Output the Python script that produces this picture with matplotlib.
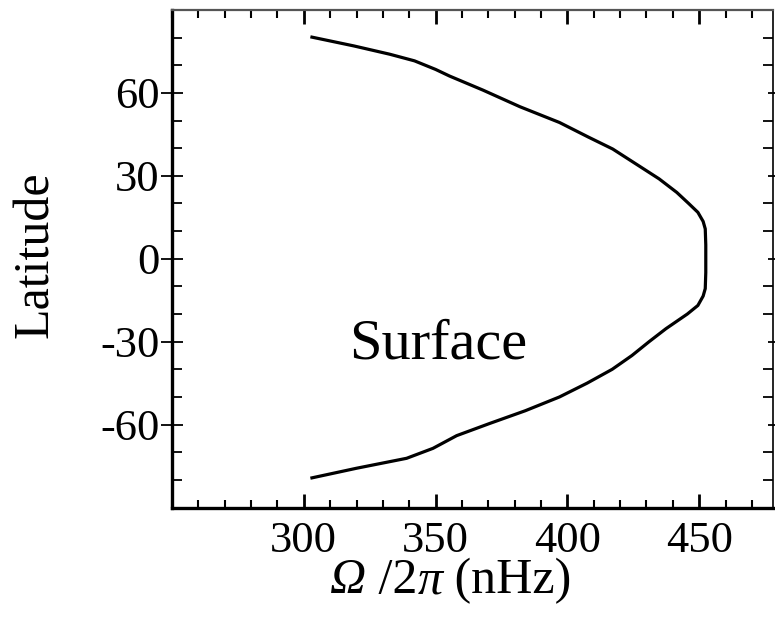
import matplotlib
matplotlib.use("Agg")
import matplotlib.pyplot as plt
from matplotlib.ticker import FixedLocator, MultipleLocator

plt.rcParams['font.family'] = ['Liberation Serif', 'DejaVu Serif']
plt.rcParams['axes.unicode_minus'] = False

# Northern hemisphere (latitude, rotation rate nHz)
lat_north = [80.3, 77.0, 74.0, 71.6, 68.5, 66.1, 61.0, 55.0, 49.3, 44.0, 39.7, 34.0,
             28.9, 24.0, 20.0, 16.8, 13.5, 10.8, 5.0, 0.0]
omega_north = [302.5, 319.0, 332.6, 342.0, 350.0, 355.3, 368.0, 382.0, 397.0, 408.0,
               417.2, 426.5, 434.8, 441.5, 446.0, 449.5, 451.5, 452.3, 452.5, 452.5]
# Southern hemisphere
lat_south = [-5.0, -10.8, -13.5, -16.9, -20.0, -25.3, -30.0, -35.0, -40.0, -45.0,
             -50.0, -55.0, -59.6, -64.0, -68.6, -72.2, -75.8, -79.4]
omega_south = [452.5, 452.3, 451.5, 449.5, 445.5, 437.4, 431.0, 424.5, 417.0, 407.5,
               397.0, 384.0, 370.5, 358.0, 349.0, 339.0, 320.0, 302.5]

x_ticks = [300, 350, 400, 450]
y_ticks = [-60, -30, 0, 30, 60]
label_text = "Surface"

fig = plt.figure(figsize=(7.75, 6.17), dpi=100)
ax = fig.add_axes([172/775, 1-507.5/617, (773-172)/775, (507.5-10)/617])

ax.plot(omega_north + omega_south, lat_north + lat_south, color='black', lw=2.3,
        solid_capstyle='butt', solid_joinstyle='round')

ax.set_xlim(250, 478)
ax.set_ylim(-90, 90)
ax.xaxis.set_major_locator(FixedLocator(x_ticks))
ax.yaxis.set_major_locator(FixedLocator(y_ticks))
ax.xaxis.set_minor_locator(MultipleLocator(10))
ax.yaxis.set_minor_locator(MultipleLocator(10))

ax.tick_params(axis='both', which='both', top=True, right=True, color='black')
ax.tick_params(axis='y', which='major', direction='inout', length=16, width=1.3,
               labelsize=32, pad=1)
ax.tick_params(axis='y', which='minor', direction='in', length=7, width=1.3)
ax.tick_params(axis='x', which='major', direction='in', length=10, width=2,
               labelsize=32, pad=10)
ax.tick_params(axis='x', which='minor', direction='in', length=6, width=1.5)
for t in ax.yaxis.get_major_ticks():
    t.tick2line.set_markersize(7)

for s in ['left', 'bottom']:
    ax.spines[s].set_linewidth(2.4)
ax.spines['top'].set_linewidth(1.6)
ax.spines['top'].set_color('#555555')
ax.spines['right'].set_linewidth(1.2)

ax.text(351, -31, label_text, fontsize=42, ha='center', va='center')

# x label built from pieces so that Omega and pi are italic
xl_pieces = [("Ω", 'italic'), (" /2", 'normal'), ("π", 'italic'), (" (nHz)", 'normal')]
prev = fig.text(330/775, 1-604/617, xl_pieces[0][0], style=xl_pieces[0][1],
                fontsize=36, ha='left', va='bottom')
for txt, sty in xl_pieces[1:]:
    prev = ax.annotate(txt, xy=(1, 0), xycoords=prev, style=sty, fontsize=36,
                       ha='left', va='bottom', annotation_clip=False)

fig.text(36/775, 1-255/617, 'Latitude', fontsize=36, rotation=90,
         ha='center', va='center')

fig.savefig('out.png', dpi=100)
